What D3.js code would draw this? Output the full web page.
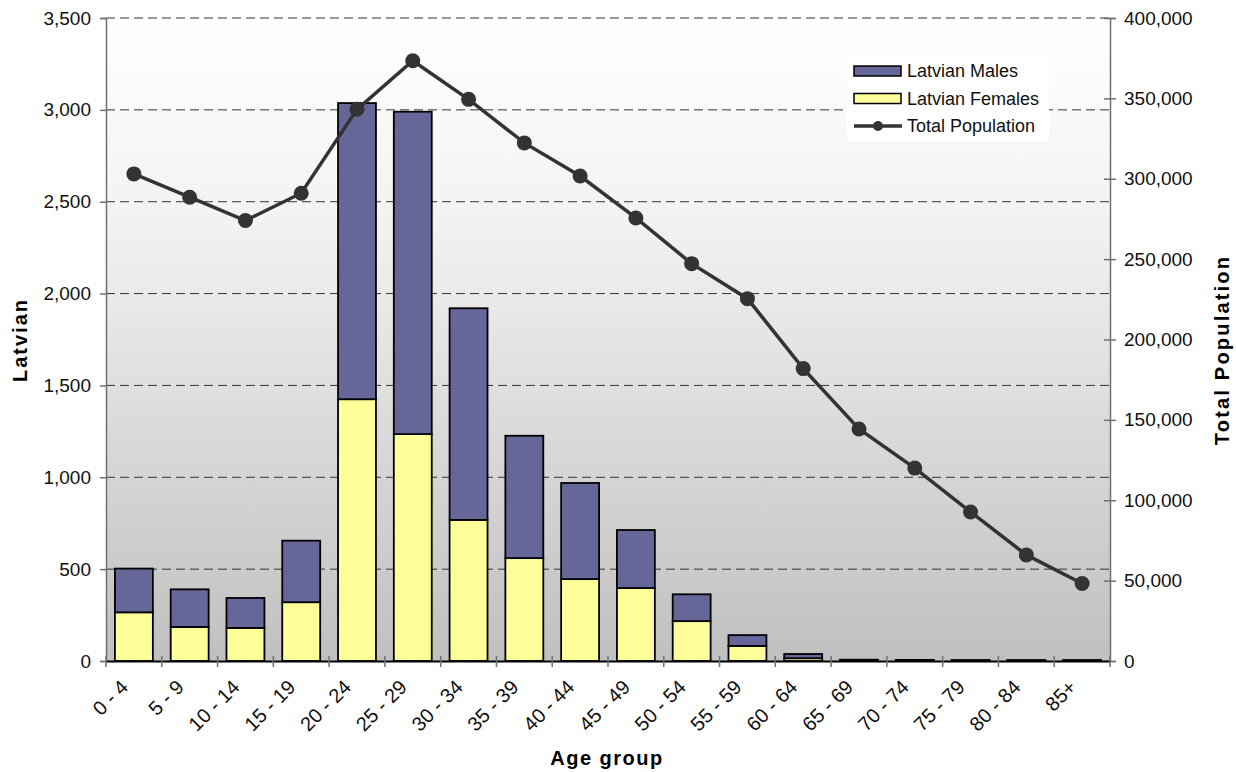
<!DOCTYPE html>
<html>
<head>
<meta charset="utf-8">
<script src="https://cdn.jsdelivr.net/npm/d3@7"></script>
<style>
  html, body { margin: 0; padding: 0; background: #ffffff; }
  svg { display: block; font-family: "Liberation Sans", Arial, sans-serif; }
</style>
</head>
<body>
<svg id="chart" width="1236" height="772"></svg>
<script>
// Age groups along the x axis
const ageGroups = ["0 - 4", "5 - 9", "10 - 14", "15 - 19", "20 - 24", "25 - 29", "30 - 34",
  "35 - 39", "40 - 44", "45 - 49", "50 - 54", "55 - 59", "60 - 64", "65 - 69",
  "70 - 74", "75 - 79", "80 - 84", "85+"];

// Latvian-born residents by sex (left axis)
const latvianFemales = [265, 185, 180, 320, 1425, 1235, 768, 560, 446, 397, 217, 82, 15, 4, 3, 3, 3, 3];
const latvianMales   = [238, 205, 163, 335, 1612, 1755, 1152, 666, 523, 316, 146, 59, 23, 3, 3, 2, 2, 2];

// Total population by age group (right axis)
const totalPopulation = [303000, 288500, 274000, 291000, 343200, 373400, 349400, 322300,
  301700, 275600, 247200, 225400, 181900, 144300, 120000, 92700, 66000, 48200];

// Axis ticks
const leftTicks = [0, 500, 1000, 1500, 2000, 2500, 3000, 3500];
const rightTicks = [0, 50000, 100000, 150000, 200000, 250000, 300000, 350000, 400000];

const svg = d3.select("#chart");
const plot = { left: 106, right: 1110, top: 18, bottom: 661 };

const x = d3.scaleBand().domain(ageGroups).range([plot.left, plot.right]).paddingInner(0.32).paddingOuter(0.16);
const xBand = d3.scaleBand().domain(ageGroups).range([plot.left, plot.right]);
const yLeft = d3.scaleLinear().domain([0, 3500]).range([plot.bottom, plot.top]);
const yRight = d3.scaleLinear().domain([0, 400000]).range([plot.bottom, plot.top]);
const fmt = d3.format(",");

// Plot background: light at the top fading to grey at the bottom
const defs = svg.append("defs");
const grad = defs.append("linearGradient").attr("id", "bg").attr("x1", 0).attr("y1", 0).attr("x2", 0).attr("y2", 1);
grad.append("stop").attr("offset", "0%").attr("stop-color", "#ffffff");
grad.append("stop").attr("offset", "30%").attr("stop-color", "#f3f3f3");
grad.append("stop").attr("offset", "100%").attr("stop-color", "#c0c0c0");

svg.append("rect")
  .attr("x", plot.left).attr("y", plot.top)
  .attr("width", plot.right - plot.left).attr("height", plot.bottom - plot.top)
  .attr("fill", "url(#bg)");

// Dashed gridlines at the left-axis ticks
svg.append("g").selectAll("line")
  .data(leftTicks.filter(d => d > 0))
  .join("line")
  .attr("x1", plot.left).attr("x2", plot.right)
  .attr("y1", d => yLeft(d)).attr("y2", d => yLeft(d))
  .attr("stroke", "#333333").attr("stroke-width", 1)
  .attr("stroke-dasharray", "9,5");

// Stacked bars: females at the bottom, males on top
const bars = svg.append("g");
bars.selectAll("rect.f")
  .data(ageGroups)
  .join("rect").attr("class", "f")
  .attr("x", d => x(d)).attr("width", x.bandwidth())
  .attr("y", (d, i) => yLeft(latvianFemales[i]))
  .attr("height", (d, i) => yLeft(0) - yLeft(latvianFemales[i]))
  .attr("fill", "#ffff99").attr("stroke", "#000000").attr("stroke-width", 1.8);
bars.selectAll("rect.m")
  .data(ageGroups)
  .join("rect").attr("class", "m")
  .attr("x", d => x(d)).attr("width", x.bandwidth())
  .attr("y", (d, i) => yLeft(latvianFemales[i] + latvianMales[i]))
  .attr("height", (d, i) => yLeft(latvianFemales[i]) - yLeft(latvianFemales[i] + latvianMales[i]))
  .attr("fill", "#666699").attr("stroke", "#000000").attr("stroke-width", 1.8);

// Left axis
const leftAxis = svg.append("g")
  .attr("transform", `translate(${plot.left},0)`)
  .call(d3.axisLeft(yLeft).tickValues(leftTicks).tickFormat(fmt).tickSize(6).tickPadding(9));
// Right axis
const rightAxis = svg.append("g")
  .attr("transform", `translate(${plot.right},0)`)
  .call(d3.axisRight(yRight).tickValues(rightTicks).tickFormat(fmt).tickSize(6).tickPadding(8));
// Right-axis ticks cross the axis line
rightAxis.selectAll(".tick line").attr("x1", -6);
// Bottom axis with ticks between categories
const bottomAxis = svg.append("g")
  .attr("transform", `translate(0,${plot.bottom})`)
  .call(d3.axisBottom(x).tickSize(0).tickPadding(12));

[leftAxis, rightAxis].forEach(g => {
  g.select(".domain").attr("stroke", "#707070").attr("stroke-width", 1.5);
  g.selectAll(".tick line").attr("stroke", "#707070").attr("stroke-width", 1.5);
  g.selectAll(".tick text")
    .attr("font-family", "'Liberation Sans', Arial, sans-serif")
    .attr("font-size", 19).attr("fill", "#111111");
});

bottomAxis.select(".domain").attr("stroke", "#000000").attr("stroke-width", 2);
bottomAxis.selectAll(".tick text")
  .attr("font-family", "'Liberation Sans', Arial, sans-serif")
  .attr("font-size", 20).attr("fill", "#111111")
  .attr("text-anchor", "end")
  .attr("dy", "0.35em")
  .attr("transform", "translate(-18,14) rotate(-45)");

// Category separator ticks along the bottom
svg.append("g").selectAll("line")
  .data(d3.range(ageGroups.length + 1))
  .join("line")
  .attr("x1", i => i < ageGroups.length ? xBand(ageGroups[i]) : plot.right)
  .attr("x2", i => i < ageGroups.length ? xBand(ageGroups[i]) : plot.right)
  .attr("y1", plot.bottom - 5).attr("y2", plot.bottom + 6)
  .attr("stroke", "#707070").attr("stroke-width", 1.5);

// Total population line with markers
const line = d3.line()
  .x((d, i) => x(ageGroups[i]) + x.bandwidth() / 2)
  .y(d => yRight(d));
svg.append("path")
  .datum(totalPopulation)
  .attr("d", line)
  .attr("fill", "none").attr("stroke", "#333333").attr("stroke-width", 3.5);
svg.append("g").selectAll("circle")
  .data(totalPopulation)
  .join("circle")
  .attr("cx", (d, i) => x(ageGroups[i]) + x.bandwidth() / 2)
  .attr("cy", d => yRight(d))
  .attr("r", 7.5)
  .attr("fill", "#333333");

// Axis titles
svg.append("text")
  .attr("transform", "translate(27,340) rotate(-90)")
  .attr("text-anchor", "middle")
  .attr("font-size", 20).attr("font-weight", "bold").attr("letter-spacing", 2)
  .attr("fill", "#000")
  .text("Latvian");
svg.append("text")
  .attr("transform", "translate(1229,350) rotate(-90)")
  .attr("text-anchor", "middle")
  .attr("font-size", 20).attr("font-weight", "bold").attr("letter-spacing", 2.2)
  .attr("fill", "#000")
  .text("Total Population");
svg.append("text")
  .attr("x", 607).attr("y", 765)
  .attr("text-anchor", "middle")
  .attr("font-size", 20).attr("font-weight", "bold").attr("letter-spacing", 1.5)
  .attr("fill", "#000")
  .text("Age group");

// Legend
const legend = svg.append("g").attr("transform", "translate(847,57)");
legend.append("rect").attr("x", 0).attr("y", 0).attr("width", 202).attr("height", 84).attr("fill", "#ffffff");
const legendItems = [
  { label: "Latvian Males", type: "bar", color: "#666699" },
  { label: "Latvian Females", type: "bar", color: "#ffff99" },
  { label: "Total Population", type: "line", color: "#333333" }
];
legendItems.forEach((item, i) => {
  const cy = 14 + i * 27.5;
  if (item.type === "bar") {
    legend.append("rect").attr("x", 7).attr("y", cy - 5).attr("width", 47).attr("height", 10)
      .attr("fill", item.color).attr("stroke", "#000").attr("stroke-width", 1.5);
  } else {
    legend.append("line").attr("x1", 7).attr("x2", 55).attr("y1", cy).attr("y2", cy)
      .attr("stroke", item.color).attr("stroke-width", 3.5);
    legend.append("circle").attr("cx", 31).attr("cy", cy).attr("r", 5).attr("fill", item.color);
  }
  legend.append("text").attr("x", 60).attr("y", cy).attr("dy", "0.36em")
    .attr("font-size", 18).attr("fill", "#111")
    .text(item.label);
});
</script>
</body>
</html>
